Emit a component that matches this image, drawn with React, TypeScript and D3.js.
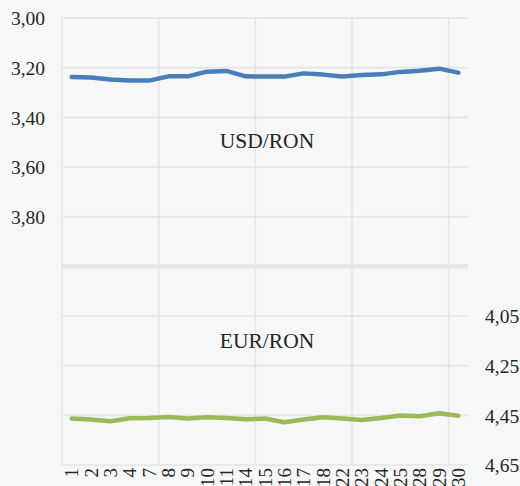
import React from 'react';
import * as d3 from 'd3';

// trading days of the month
const categories = ['1', '2', '3', '4', '7', '8', '9', '10', '11', '14', '15', '16', '17', '18', '22', '23', '24', '25', '28', '29', '30'];

const usdRon = [3.238, 3.24, 3.248, 3.252, 3.252, 3.235, 3.235, 3.216, 3.213, 3.235, 3.236, 3.236, 3.223, 3.228, 3.236, 3.23, 3.227, 3.217, 3.212, 3.204, 3.22];
const eurRon = [4.463, 4.467, 4.474, 4.462, 4.461, 4.457, 4.463, 4.458, 4.461, 4.466, 4.463, 4.478, 4.467, 4.458, 4.463, 4.469, 4.461, 4.451, 4.454, 4.442, 4.452];

const leftTicks = [3.0, 3.2, 3.4, 3.6, 3.8];
const rightTicks = [4.05, 4.25, 4.45, 4.65];
const gridTicks = [3.0, 3.2, 3.4, 3.6, 3.8, 4.0, 4.2, 4.4, 4.6, 4.8];

const W = 520;
const H = 486;
const FONT = '"Liberation Serif", "Times New Roman", serif';

export default function App() {
  const margin = { top: 18, right: 52, bottom: 21, left: 62 };
  const innerRight = W - margin.right;
  const innerBottom = H - margin.bottom;

  const x = d3.scaleBand<string>().domain(categories).range([margin.left, innerRight]);
  const yLeft = d3.scaleLinear().domain([3.0, 4.8]).range([margin.top, innerBottom]);
  const yRight = d3.scaleLinear().domain([2.85, 4.65]).range([margin.top, innerBottom]);

  const cx = (i: number) => (x(categories[i]) as number) + x.bandwidth() / 2;

  const usdLine = d3
    .line<number>()
    .x((_, i) => cx(i))
    .y(d => yLeft(d))(usdRon);
  const eurLine = d3
    .line<number>()
    .x((_, i) => cx(i))
    .y(d => yRight(d))(eurRon);

  const fmt = (v: number) => v.toFixed(2).replace('.', ',');
  const midX = (margin.left + innerRight) / 2 + 2;
  const vGrid = categories.filter((_, i) => i % 5 === 0).map(c => x(c) as number);

  return (
    <div style={{ position: 'absolute', left: 0, top: 0 }}>
      <svg width={W} height={H} style={{ display: 'block', background: '#f6f7f7' }}>
        <g stroke="#e5e5e5" strokeWidth={1.6}>
          {gridTicks.map((t, i) =>
            i === 5 ? null : (
              <line key={t} x1={margin.left} x2={innerRight} y1={yLeft(t)} y2={yLeft(t)} />
            ),
          )}
          {vGrid.map(v => (
            <line key={v} x1={v} x2={v} y1={margin.top} y2={innerBottom} />
          ))}
          <line
            x1={margin.left}
            x2={innerRight}
            y1={yLeft(4.0)}
            y2={yLeft(4.0)}
            strokeWidth={4.5}
          />
        </g>

        <path d={usdLine ?? ''} fill="none" stroke="#4a7ebb" strokeWidth={4.5} strokeLinejoin="round" strokeLinecap="round" />
        <path d={eurLine ?? ''} fill="none" stroke="#9bbb59" strokeWidth={4.5} strokeLinejoin="round" strokeLinecap="round" />

        <g fontFamily={FONT} fontSize={19.5} fill="#262626">
          {leftTicks.map(t => (
            <text key={t} x={45} y={yLeft(t)} dy="0.38em" textAnchor="end">
              {fmt(t)}
            </text>
          ))}
          {rightTicks.map(t => (
            <text key={t} x={485} y={yRight(t)} dy="0.38em" textAnchor="start">
              {fmt(t)}
            </text>
          ))}
        </g>

        <g fontFamily={FONT} fontSize={21.5} fill="#262626" textAnchor="middle">
          <text x={midX} y={yLeft(3.525)}>USD/RON</text>
          <text x={midX} y={yRight(4.18)}>EUR/RON</text>
        </g>

        <g fontFamily={FONT} fontSize={19} fill="#262626">
          {categories.map((c, i) => (
            <text
              key={c}
              transform={`translate(${cx(i)},${innerBottom + 3}) rotate(-90)`}
              textAnchor="end"
              dy="0.35em"
            >
              {c}
            </text>
          ))}
        </g>
      </svg>
    </div>
  );
}
